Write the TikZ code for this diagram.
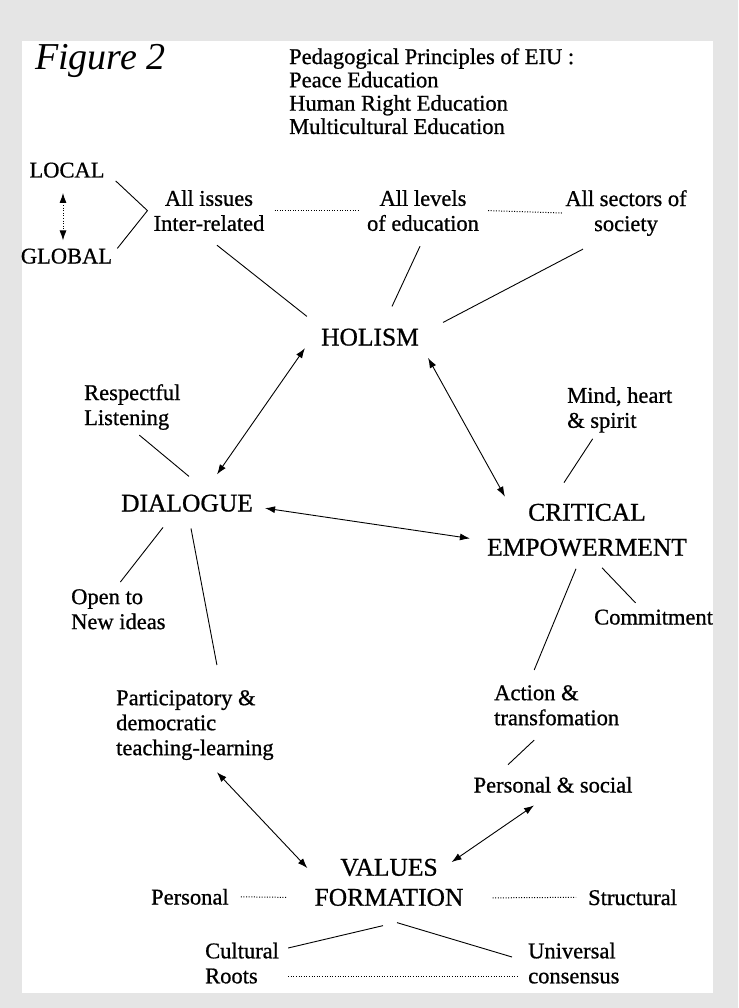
\documentclass[tikz,border=0pt]{standalone}
\usepackage{fontspec}
\setmainfont{Liberation Serif}
\newfontfamily\scanfont{Liberation Serif}[FakeBold=0.8]
\usetikzlibrary{arrows.meta}
\definecolor{panel}{gray}{0.9}

\begin{document}
\begin{tikzpicture}[x=1pt,y=-1pt]
	\tikzstyle{Plain}	= [inner sep=0pt, font=\scanfont\fontsize{22.5}{25}\selectfont]
	\tikzstyle{Head}	= [inner sep=0pt, font=\scanfont\fontsize{25.5}{35}\selectfont]
	\tikzstyle{Link}	= [line width=0.9pt]
	\tikzstyle{Dots}	= [line width=1pt, dash pattern=on 1pt off 1.6pt]
	\tikzstyle{Both}	= [Link, {Latex[length=10pt,width=7pt]}-{Latex[length=10pt,width=7pt]}]

	\fill [panel] (0,0) rectangle (738,1008);
	\fill [white] (22,41) rectangle (713,993);

	\node (fig) at (35,70) [anchor=base west, inner sep=0pt, font=\fontsize{38}{40}\selectfont\itshape] {Figure 2};
	\node (eiu) at (289,48) [Plain, anchor=north west, align=left, font=\scanfont\fontsize{22.5}{23.3}\selectfont] {Pedagogical Principles of EIU :\\Peace Education\\Human Right Education\\Multicultural Education};
	\node (local) at (67,177.5) [Plain, anchor=base] {LOCAL};
	\node (global) at (66.5,263.5) [Plain, anchor=base] {GLOBAL};
	\node (issues) at (209,190) [Plain, anchor=north, align=center] {All issues\\Inter-related};
	\node (levels) at (423,190) [Plain, anchor=north, align=center] {All levels\\of education};
	\node (sectors) at (626,190) [Plain, anchor=north, align=center] {All sectors of\\society};
	\node (holism) at (370,345.5) [Head, anchor=base] {HOLISM};
	\node (respect) at (84,384) [Plain, anchor=north west, align=left] {Respectful\\Listening};
	\node (mind) at (567,387) [Plain, anchor=north west, align=left] {Mind, heart\\\& spirit};
	\node (dialogue) at (187,511.5) [Head, anchor=base] {DIALOGUE};
	\node (critical) at (587,503.6) [Head, anchor=north, align=center] {CRITICAL\\EMPOWERMENT};
	\node (open) at (71,589) [Plain, anchor=north west, align=left] {Open to\\New ideas};
	\node (commit) at (594,624.5) [Plain, anchor=base west] {Commitment};
	\node (partic) at (116,690) [Plain, anchor=north west, align=left] {Participatory \&\\democratic\\teaching-learning};
	\node (action) at (494,685) [Plain, anchor=north west, align=left] {Action \&\\transfomation};
	\node (persoc) at (553,792.5) [Plain, anchor=base] {Personal \& social};
	\node (values) at (389,858.6) [Head, anchor=north, align=center, font=\scanfont\fontsize{25.5}{30}\selectfont] {VALUES\\FORMATION};
	\node (personal) at (151,904.5) [Plain, anchor=base west] {Personal};
	\node (struct) at (588,905) [Plain, anchor=base west] {Structural};
	\node (cultural) at (205,942.5) [Plain, anchor=north west, align=left] {Cultural\\Roots};
	\node (universal) at (528,942.5) [Plain, anchor=north west, align=left] {Universal\\consensus};

	\draw [Both, dash pattern=on 1pt off 1.6pt, shorten <=15pt, shorten >=8pt] ([xshift=-4pt]local.south) to ([xshift=-3.5pt]global.north);
	\draw [Link] ([shift={(11,3)}]local.south east) -- ([xshift=-6pt]issues.west) -- ([xshift=5pt]global.north east);
	\draw [Dots] ([xshift=10pt]issues.east) to ([xshift=-8pt]levels.west);
	\draw [Dots] ([xshift=9pt]levels.east) to ([xshift=-2pt]sectors.west);

	\draw [Link] ([shift={(8,14)}]issues.south) to ([shift={(-14,-12)}]holism.north west);
	\draw [Link] ([shift={(-3,15)}]levels.south) to ([shift={(22,-22)}]holism.north);
	\draw [Link] ([shift={(-43,13)}]sectors.south) to ([shift={(24,-6)}]holism.north east);

	\draw [Both] ([shift={(-16,11)}]holism.west) to ([shift={(30,-20)}]dialogue.north);
	\draw [Both] ([shift={(9,12)}]holism.south east) to ([shift={(18,-7)}]critical.north west);
	\draw [Both] ([shift={(12,5)}]dialogue.east) to ([shift={(-17,8.5)}]critical.west);

	\draw [Link] ([shift={(7,5)}]respect.south) to ([shift={(2,-18)}]dialogue.north);
	\draw [Link] ([shift={(-27,6)}]mind.south) to ([shift={(-23,-21)}]critical.north);
	\draw [Link] ([shift={(-24,15.5)}]dialogue.south) to ([shift={(2,-7)}]open.north);
	\draw [Link] ([shift={(4,16.5)}]dialogue.south) to ([shift={(22,-25)}]partic.north);
	\draw [Link] ([shift={(15,11.5)}]critical.south) to ([shift={(-18,-6.5)}]commit.north);
	\draw [Link] ([shift={(-11,12.5)}]critical.south) to ([shift={(-22.5,-15)}]action.north);
	\draw [Link] ([shift={(-22.5,14.5)}]action.south) to ([shift={(-45,-12)}]persoc.north);

	\draw [Both] ([shift={(22,12)}]partic.south) to ([shift={(-7,9.5)}]values.north west);
	\draw [Both] ([shift={(-19,12.5)}]persoc.south) to ([shift={(-12,3.5)}]values.north east);
	\draw [Dots] ([xshift=12pt]personal.east) to ([shift={(-28,15)}]values.west);
	\draw [Dots] ([shift={(29,15.5)}]values.east) to ([xshift=-12pt]struct.west);
	\draw [Link] ([shift={(-6,19.5)}]values.south) to ([shift={(9,5.5)}]cultural.north east);
	\draw [Link] ([shift={(8,16.5)}]values.south) to ([shift={(-16,14.5)}]universal.north west);
	\draw [Dots] ([shift={(9,-7.5)}]cultural.south east) to ([shift={(-11,-7.5)}]universal.south west);
\end{tikzpicture}
\end{document}
